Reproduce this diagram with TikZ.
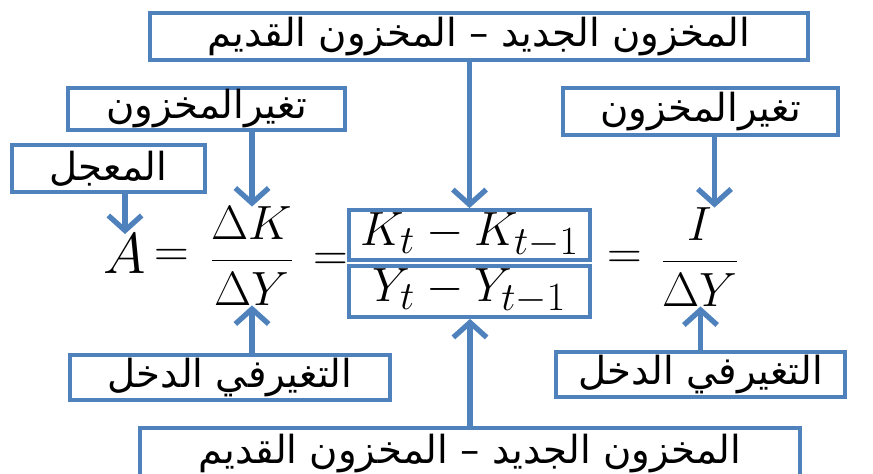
\documentclass[tikz,border=0pt]{standalone}
\usepackage{fontspec}
\newfontfamily\arabicfont[Script=Arabic]{DejaVu Sans}
\TeXXeTstate=1
\usetikzlibrary{arrows.meta}
\definecolor{boxblue}{RGB}{79,129,189}
\newcommand{\bigmath}[1]{\scalebox{1.65}{$\displaystyle #1$}}

\begin{document}
\begin{tikzpicture}[x=0.03cm,y=-0.03cm,
  lbl/.style={draw=boxblue,line width=3.2pt,fill=white,inner sep=0pt,
    font=\arabicfont\fontsize{33}{38}\selectfont},
  termbox/.style={draw=boxblue,line width=3.2pt,inner sep=0pt,
    minimum width=7.23cm,font=\Huge},
  eqn/.style={inner sep=0pt,font=\Huge},
  arr/.style={boxblue,line width=4.5pt,-{Straight Barb[length=4.5mm,width=10mm]}}]
\useasboundingbox (0,0) rectangle (873,473);

% labels
\node[lbl,minimum width=19.74cm,minimum height=1.41cm] (top) at (479,36.5)
  {\beginR المخزون الجديد – المخزون القديم\endR};
\node[lbl,minimum width=8.31cm,minimum height=1.26cm] (stockL) at (206.5,109)
  {\beginR تغيرالمخزون\endR};
\node[lbl,minimum width=5.79cm,minimum height=1.41cm] (accel) at (108.5,168.5)
  {\beginR المعجل\endR};
\node[lbl,minimum width=8.25cm,minimum height=1.41cm] (stockR) at (700.5,111.5)
  {\beginR تغيرالمخزون\endR};
\node[lbl,minimum width=9.6cm,minimum height=1.35cm] (incL) at (230,377.5)
  {\beginR التغيرفي الدخل\endR};
\node[lbl,minimum width=8.67cm,minimum height=1.35cm] (incR) at (700.5,374.5)
  {\beginR التغيرفي الدخل\endR};
\node[lbl,minimum width=19.8cm,minimum height=1.56cm] (bottom) at (470,454)
  {\beginR المخزون الجديد – المخزون القديم\endR};

% formula
\node[eqn] (accA) at (125,254) {\scalebox{1.2}{\bigmath{A}}};
\node[eqn] (eqA) at (172,258) {\bigmath{=}};
\node[eqn] (dk) at (252,256) {\bigmath{\frac{\Delta K}{\Delta Y}}};
\node[eqn] (eqB) at (331,262) {\bigmath{=}};
\node[termbox,minimum height=1.5cm] (kt) at (469.5,235) {\bigmath{K_t-K_{t-1}}};
\node[termbox,minimum height=1.53cm] (yt) at (469.5,291.5) {\bigmath{Y_t-Y_{t-1}}};
\node[eqn] (eqC) at (625,260) {\bigmath{=}};
\node[eqn] (fi) at (700,257) {\bigmath{\frac{I}{\Delta Y}}};

% arrows
\draw[arr] (top.south -| kt.north) -- (kt.north);
\draw[arr] (stockL.south -| dk.north) -- (dk.north);
\draw[arr] (accel.south -| accA.north) -- (accA.north);
\draw[arr] ([xshift=0.42cm]stockR.south) -- ([xshift=0.42cm]stockR.south |- fi.north);
\draw[arr] (incL.north -| dk.south) -- (dk.south);
\draw[arr] (incR.north) -- (incR.north |- fi.south);
\draw[arr] (bottom.north) -- (bottom.north |- yt.south);
\end{tikzpicture}
\end{document}
